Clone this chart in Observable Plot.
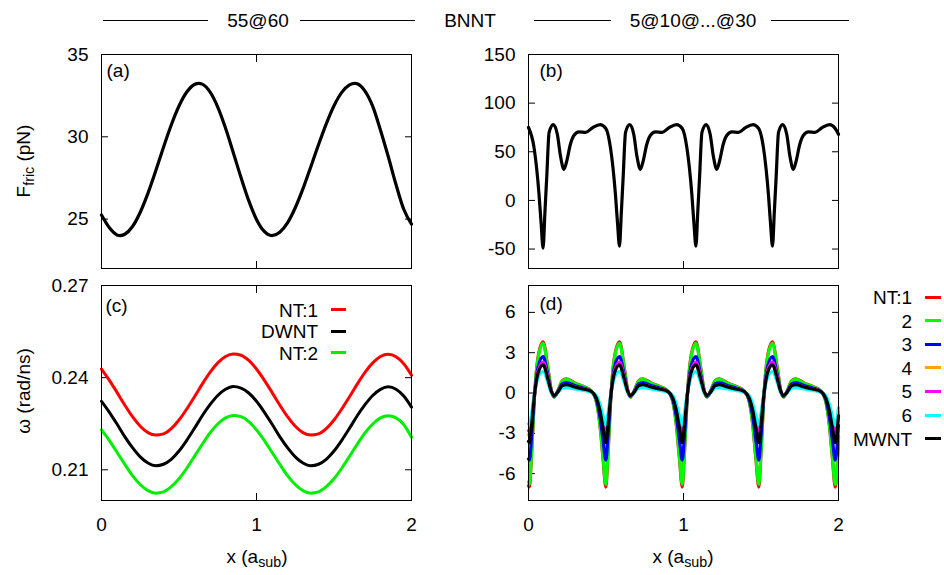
<!DOCTYPE html>
<html><head><meta charset="utf-8">
<script src="https://cdn.jsdelivr.net/npm/d3@7"></script>
<script src="https://cdn.jsdelivr.net/npm/@observablehq/plot@0.6"></script>
<style>
body{margin:0;background:#fff;font-family:"Liberation Sans",Arial,sans-serif;color:#000}
#wrap{position:relative;width:944px;height:575px;overflow:hidden}
#wrap svg{position:absolute;left:0;top:0}
.t{position:absolute;font-size:19px;white-space:nowrap;line-height:1}
.hl{position:absolute;height:1px;background:#000}
.lg{position:absolute;height:3px}
sub{font-size:0.75em;vertical-align:-0.3em;line-height:0}
</style></head><body><div id="wrap"></div>
<script>
// ---------- data ----------
const titleLeft = "55@60", titleMid = "BNNT", titleRight = "5@10@...@30";
const panelTags = ["(a)", "(b)", "(c)", "(d)"];

// (a) friction force, DWNT 55@60
const ax = [0,0.05,0.1,0.12,0.15,0.2,0.25,0.3,0.35,0.4,0.45,0.5,0.55,0.6,0.628,0.65,0.7,0.75,0.8,0.85,0.9,0.95,1.0,1.05,1.1,1.15,1.2,1.25,1.3,1.35,1.4,1.45,1.5,1.55,1.6,1.634,1.65,1.7,1.75,1.8,1.85,1.9,1.95,2.0];
const ay = [25.25,24.49,24.04,24.0,24.08,24.55,25.42,26.58,27.94,29.37,30.72,31.87,32.72,33.18,33.25,33.2,32.73,31.81,30.54,29.05,27.53,26.12,24.98,24.25,24.0,24.2,24.77,25.69,26.85,28.17,29.52,30.79,31.89,32.7,33.16,33.25,33.22,32.78,31.85,30.4,28.8,27.1,25.6,24.7];
const aYTicks = [25, 30, 35];

// (b) friction force, MWNT 5@10@...@30
const bx = [0,0.036,0.068,0.082,0.094,0.106,0.118,0.133,0.160,0.186,0.207,0.229,0.249,0.269,0.294,0.326,0.369,0.412,0.462,0.499,
0.529,0.561,0.575,0.587,0.599,0.611,0.626,0.653,0.679,0.700,0.722,0.742,0.762,0.787,0.819,0.862,0.905,0.955,0.992,
1.022,1.054,1.068,1.080,1.092,1.104,1.119,1.146,1.172,1.193,1.215,1.235,1.255,1.280,1.312,1.355,1.398,1.448,1.485,
1.516,1.548,1.562,1.574,1.586,1.598,1.613,1.640,1.666,1.687,1.709,1.729,1.749,1.774,1.806,1.849,1.892,1.942,1.979,2.0];
const by = [75,54,6,-25,-49,-12,25,70,78,68,45,32,42,57,67,70.5,70,74.5,78,74,
54,6,-25,-47,-12,25,70,78,68,45,32,42,57,67,70.5,70,74.5,78,74,
54,6,-25,-47,-12,25,70,78,68,45,32,42,57,67,70.5,70,74.5,78,74,
54,6,-25,-47,-12,25,70,78,68,45,32,42,57,67,70.5,70,74.5,78,74,68];
const bYTicks = [-50, 0, 50, 100, 150];

// (c) angular velocity, DWNT
const cx = [0,0.05,0.1,0.15,0.2,0.25,0.3,0.35,0.4,0.45,0.5,0.55,0.6,0.65,0.7,0.75,0.8,0.85,0.9,0.95,1.0,1.05,1.1,1.15,1.2,1.25,1.3,1.35,1.4,1.45,1.5,1.55,1.6,1.65,1.7,1.75,1.8,1.85,1.9,1.95,2.0];
const cNT1 = [0.2428,0.2392,0.2352,0.2311,0.2273,0.2242,0.2221,0.2213,0.2217,0.2234,0.2262,0.2298,0.2338,0.2379,0.2417,0.2448,0.2469,0.2477,0.2473,0.2456,
0.2428,0.2392,0.2352,0.2311,0.2273,0.2242,0.2221,0.2213,0.2217,0.2234,0.2262,0.2298,0.2338,0.2379,0.2417,0.2448,0.2469,0.2476,0.2468,0.2445,0.2408];
const cDWNT = [0.2323,0.2288,0.2249,0.2208,0.2172,0.2142,0.2122,0.2113,0.2118,0.2134,0.2161,0.2196,0.2235,0.2276,0.2312,0.2342,0.2362,0.2371,0.2366,0.2350,
0.2323,0.2288,0.2249,0.2208,0.2172,0.2142,0.2122,0.2113,0.2118,0.2134,0.2161,0.2196,0.2235,0.2276,0.2312,0.2342,0.2362,0.2370,0.2362,0.2340,0.2304];
const cNT2 = [0.2230,0.2196,0.2157,0.2118,0.2081,0.2052,0.2032,0.2024,0.2028,0.2045,0.2071,0.2105,0.2144,0.2183,0.2220,0.2249,0.2269,0.2277,0.2273,0.2257,
0.2230,0.2196,0.2157,0.2118,0.2081,0.2052,0.2032,0.2024,0.2028,0.2045,0.2071,0.2105,0.2144,0.2183,0.2220,0.2249,0.2269,0.2276,0.2269,0.2247,0.2206];
const cNames = ["NT:1", "DWNT", "NT:2"];
const cColors = ["#ff0000", "#000000", "#00ee00"];
const cYTicks = [0.21, 0.24, 0.27];

// (d) angular velocity, MWNT
const dx = [0,
0.006,0.019,0.040,0.062,0.094,0.126,0.148,0.165,0.191,0.217,0.245,0.298,0.352,0.406,0.438,0.460,0.481,
0.499,0.512,0.533,0.555,0.587,0.619,0.641,0.658,0.684,0.710,0.738,0.791,0.845,0.899,0.931,0.953,0.974,
0.992,1.005,1.026,1.048,1.080,1.112,1.134,1.151,1.177,1.203,1.231,1.284,1.338,1.392,1.424,1.446,1.467,
1.486,1.499,1.520,1.542,1.574,1.606,1.628,1.645,1.671,1.697,1.725,1.778,1.832,1.886,1.918,1.940,1.961,
1.979,2.0];
const dNT1 = [-6.9,
-7.0,-4.7,0,2.7,3.8,1.8,0.15,-0.3,0.2,0.9,1.05,0.75,0.5,0.15,-0.65,-2.3,-4.9,
-7.0,-4.7,0,2.7,3.8,1.8,0.15,-0.3,0.2,0.9,1.05,0.75,0.5,0.15,-0.65,-2.3,-4.9,
-7.0,-4.7,0,2.7,3.8,1.8,0.15,-0.3,0.2,0.9,1.05,0.75,0.5,0.15,-0.65,-2.3,-4.9,
-7.0,-4.7,0,2.7,3.8,1.8,0.15,-0.3,0.2,0.9,1.05,0.75,0.5,0.15,-0.65,-2.3,-4.9,
-7.0,-3.3];
const dNT2 = [-6.6,
-6.8,-4.6,0,2.6,3.7,1.75,0.15,-0.3,0.2,0.88,1.02,0.73,0.48,0.15,-0.63,-2.25,-4.8,
-6.8,-4.6,0,2.6,3.7,1.75,0.15,-0.3,0.2,0.88,1.02,0.73,0.48,0.15,-0.63,-2.25,-4.8,
-6.8,-4.6,0,2.6,3.7,1.75,0.15,-0.3,0.2,0.88,1.02,0.73,0.48,0.15,-0.63,-2.25,-4.8,
-6.8,-4.6,0,2.6,3.7,1.75,0.15,-0.3,0.2,0.88,1.02,0.73,0.48,0.15,-0.63,-2.25,-4.8,
-6.8,-3.2];
const dNT3 = [-4.9,
-5.0,-3.4,0,1.95,2.7,1.3,0.12,-0.25,0.15,0.68,0.78,0.56,0.38,0.12,-0.48,-1.7,-3.5,
-5.0,-3.4,0,1.95,2.7,1.3,0.12,-0.25,0.15,0.68,0.78,0.56,0.38,0.12,-0.48,-1.7,-3.5,
-5.0,-3.4,0,1.95,2.7,1.3,0.12,-0.25,0.15,0.68,0.78,0.56,0.38,0.12,-0.48,-1.7,-3.5,
-5.0,-3.4,0,1.95,2.7,1.3,0.12,-0.25,0.15,0.68,0.78,0.56,0.38,0.12,-0.48,-1.7,-3.5,
-5.0,-2.4];
const dNT4 = [-3.1,
-3.2,-2.1,0,1.6,2.25,1.05,0.1,-0.2,0.1,0.55,0.62,0.45,0.3,0.1,-0.32,-1.1,-2.25,
-3.2,-2.1,0,1.6,2.25,1.05,0.1,-0.2,0.1,0.55,0.62,0.45,0.3,0.1,-0.32,-1.1,-2.25,
-3.2,-2.1,0,1.6,2.25,1.05,0.1,-0.2,0.1,0.55,0.62,0.45,0.3,0.1,-0.32,-1.1,-2.25,
-3.2,-2.1,0,1.6,2.25,1.05,0.1,-0.2,0.1,0.55,0.62,0.45,0.3,0.1,-0.32,-1.1,-2.25,
-3.2,-1.5];
const dNT5 = [-2.8,
-2.9,-1.95,0,1.6,2.3,1.1,0.1,-0.2,0.1,0.55,0.62,0.45,0.3,0.1,-0.3,-1.0,-2.05,
-2.9,-1.95,0,1.6,2.3,1.1,0.1,-0.2,0.1,0.55,0.62,0.45,0.3,0.1,-0.3,-1.0,-2.05,
-2.9,-1.95,0,1.6,2.3,1.1,0.1,-0.2,0.1,0.55,0.62,0.45,0.3,0.1,-0.3,-1.0,-2.05,
-2.9,-1.95,0,1.6,2.3,1.1,0.1,-0.2,0.1,0.55,0.62,0.45,0.3,0.1,-0.3,-1.0,-2.05,
-2.9,-1.4];
const dNT6 = [-2.3,
-2.4,-1.6,0.05,1.15,1.6,0.75,0.0,-0.2,0.05,0.35,0.4,0.3,0.2,0.05,-0.2,-0.8,-1.7,
-2.4,-1.6,0.05,1.15,1.6,0.75,0.0,-0.2,0.05,0.35,0.4,0.3,0.2,0.05,-0.2,-0.8,-1.7,
-2.4,-1.6,0.05,1.15,1.6,0.75,0.0,-0.2,0.05,0.35,0.4,0.3,0.2,0.05,-0.2,-0.8,-1.7,
-2.4,-1.6,0.05,1.15,1.6,0.75,0.0,-0.2,0.05,0.35,0.4,0.3,0.2,0.05,-0.2,-0.8,-1.7,
-2.4,-1.1];
const dMWNT = [-3.6,
-3.7,-2.5,0,1.5,2.1,1.0,0.1,-0.2,0.1,0.54,0.62,0.45,0.3,0.1,-0.37,-1.25,-2.6,
-3.7,-2.5,0,1.5,2.1,1.0,0.1,-0.2,0.1,0.54,0.62,0.45,0.3,0.1,-0.37,-1.25,-2.6,
-3.7,-2.5,0,1.5,2.1,1.0,0.1,-0.2,0.1,0.54,0.62,0.45,0.3,0.1,-0.37,-1.25,-2.6,
-3.7,-2.5,0,1.5,2.1,1.0,0.1,-0.2,0.1,0.54,0.62,0.45,0.3,0.1,-0.37,-1.25,-2.6,
-3.7,-1.7];
const dNames = ["NT:1", "2", "3", "4", "5", "6", "MWNT"];
const dColors = ["#ff0000", "#00ff00", "#0000ff", "#ffa500", "#ff00ff", "#00ffff", "#000000"];
const dYTicks = [-6, -3, 0, 3, 6];
const xTicks = [0, 1, 2];

// ---------- drawing ----------
const W = 944, H = 575;
const FONT = '"Liberation Sans", Arial, sans-serif';
const wrap = document.getElementById("wrap");

function panel({box, xdom, ydom, yticks, xLabels, marks, tag, tagDx, tagDy, extra = {}}) {
  const [l, r, t, b] = box;
  return Plot.plot({
    width: W, height: H,
    marginLeft: l, marginRight: W - r, marginTop: t, marginBottom: H - b,
    style: {background: "transparent", fontFamily: FONT, fontSize: "19px", color: "#000", overflow: "visible"},
    x: {domain: xdom},
    y: {domain: ydom},
    ...extra,
    marks: [
      Plot.axisX(xTicks, {anchor: "bottom", tickSize: -7, tickPadding: 24, label: null,
        tickFormat: xLabels ? (d) => String(d) : () => ""}),
      Plot.axisX(xTicks, {anchor: "top", tickSize: -7, label: null, tickFormat: () => ""}),
      Plot.axisY(yticks, {anchor: "left", tickSize: -7, tickPadding: 20, label: null, tickFormat: (d) => String(d)}),
      Plot.axisY(yticks, {anchor: "right", tickSize: -7, label: null, tickFormat: () => ""}),
      ...marks,
      Plot.frame({stroke: "#000", strokeWidth: 1}),
      Plot.text([tag], {frameAnchor: "top-left", dx: tagDx, dy: tagDy, fontSize: 19, lineAnchor: "top"})
    ]
  });
}

const pa = panel({
  box: [101, 411, 54, 268], xdom: [0, 2], ydom: [22, 35], yticks: aYTicks, xLabels: false,
  tag: panelTags[0], tagDx: 5, tagDy: 9,
  marks: [Plot.line(ax, {x: ax, y: ay, stroke: "#000", strokeWidth: 3.2, curve: "monotone-x"})]
});
const pb = panel({
  box: [528, 838, 54, 268], xdom: [0, 2], ydom: [-70, 150], yticks: bYTicks, xLabels: false,
  tag: panelTags[1], tagDx: 11, tagDy: 9,
  marks: [Plot.line(bx, {x: bx, y: by, stroke: "#000", strokeWidth: 3.2, curve: "monotone-x"})]
});

const cRows = [];
[cNT1, cDWNT, cNT2].forEach((arr, k) => arr.forEach((v, i) => cRows.push({x: cx[i], y: v, s: cNames[k]})));
const pc = panel({
  box: [101, 411, 285, 500], xdom: [0, 2], ydom: [0.2, 0.27], yticks: cYTicks, xLabels: true,
  tag: panelTags[2], tagDx: 4, tagDy: 13,
  extra: {color: {domain: cNames, range: cColors}},
  marks: [Plot.line(cRows, {x: "x", y: "y", z: "s", stroke: "s", strokeWidth: 3, curve: "monotone-x"})]
});

const dRows = [];
[dNT1, dNT2, dNT3, dNT4, dNT5, dNT6, dMWNT].forEach((arr, k) => arr.forEach((v, i) => dRows.push({x: dx[i], y: v, s: dNames[k]})));
const pd = panel({
  box: [528, 838, 285, 500], xdom: [0, 2], ydom: [-8, 8], yticks: dYTicks, xLabels: true,
  tag: panelTags[3], tagDx: 11, tagDy: 11,
  extra: {color: {domain: dNames, range: dColors}},
  marks: [Plot.line(dRows, {x: "x", y: "y", z: "s", stroke: "s", strokeWidth: 3.2, curve: "monotone-x"})]
});

[pa, pb, pc, pd].forEach((p) => wrap.appendChild(p));

// ---------- text overlays ----------
function addText(html, x, y, align = "center", extraStyle = "") {
  const d = document.createElement("div");
  d.className = "t";
  d.innerHTML = html;
  const tx = align === "center" ? "-50%" : align === "right" ? "-100%" : "0";
  d.style.cssText = `left:${x}px;top:${y}px;transform:translate(${tx},-50%) ${extraStyle};`;
  wrap.appendChild(d);
  return d;
}
function addLine(x1, x2, y, color = "#000", cls = "hl") {
  const d = document.createElement("div");
  d.className = cls;
  d.style.left = x1 + "px";
  d.style.width = (x2 - x1) + "px";
  d.style.top = (y - (cls === "lg" ? 1.5 : 0.5)) + "px";
  d.style.background = color;
  wrap.appendChild(d);
}

// header
addLine(103, 208, 20); addText(titleLeft, 258, 20); addLine(300, 415, 20);
addText(titleMid, 470, 20);
addLine(534, 611, 20); addText(titleRight, 693, 20); addLine(771, 849, 20);

// axis titles
addText("F<sub>fric</sub> (pN)", 23, 161, "center", "rotate(-90deg)");
addText("ω (rad/ns)", 23, 391, "center", "rotate(-90deg)");
addText("x (a<sub>sub</sub>)", 257, 556);
addText("x (a<sub>sub</sub>)", 683, 556);

// legends
cNames.forEach((n, i) => {
  const y = 309.5 + i * 21.7;
  addText(n, 318, y, "right");
  addLine(331, 346, y, cColors[i], "lg");
});
dNames.forEach((n, i) => {
  const y = 297 + i * 23.6;
  addText(n, 912, y, "right");
  addLine(925, 941, y, dColors[i], "lg");
});
</script></body></html>
